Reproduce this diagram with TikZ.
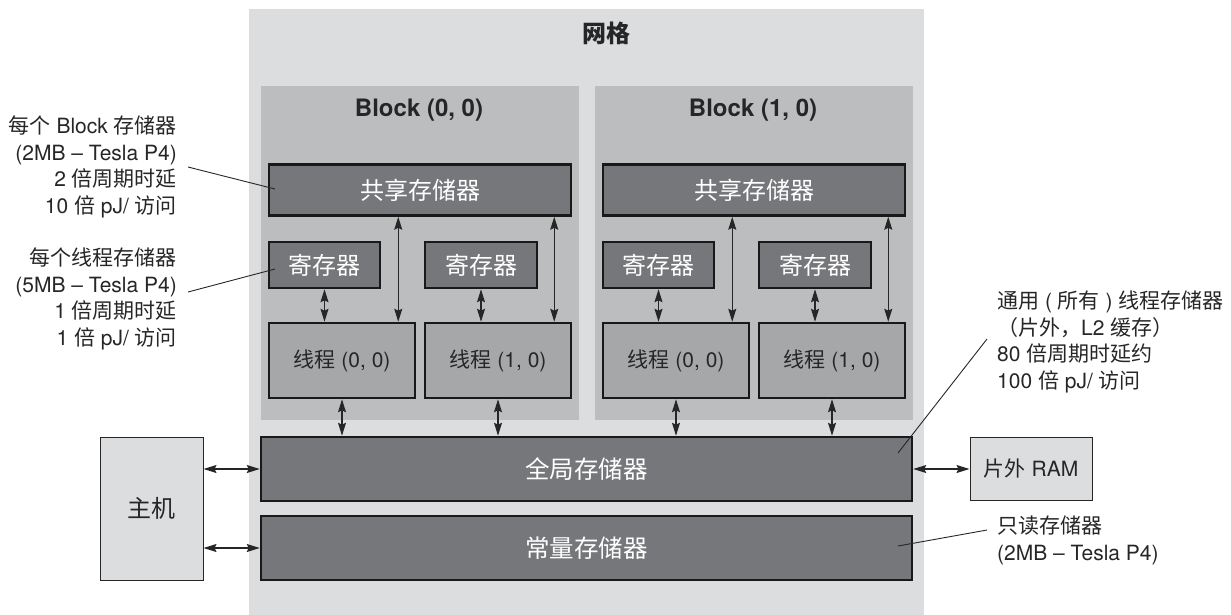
\documentclass[tikz,border=0pt]{standalone}
\usepackage{fontspec}
\setmainfont{TeX Gyre Heros}
\newfontfamily\zhf{Noto Sans CJK SC}
\newcommand\zh[1]{{\zhf #1}}
\usetikzlibrary{arrows.meta}
\definecolor{gridc}{HTML}{DCDDDF}
\definecolor{blkc}{HTML}{BCBDBF}
\definecolor{darkc}{HTML}{76777A}
\definecolor{thrc}{HTML}{A6A7A9}
\definecolor{lightc}{HTML}{DCDDDF}
\begin{document}
\begin{tikzpicture}[x=1pt,y=-1pt,
  gridbox/.style={fill=gridc, draw=none, inner sep=0pt},
  blkbox/.style={fill=blkc, draw=none, inner sep=0pt},
  darkbox/.style={draw=black!90, line width=2.5pt, fill=darkc, text=white, inner sep=0pt, font=\fontsize{24}{28}\selectfont},
  thrbox/.style={draw=black!90, line width=2.5pt, fill=thrc, text=black!85, inner sep=0pt, font=\fontsize{21}{25}\selectfont},
  lightbox/.style={draw=black!85, line width=1pt, fill=lightc, text=black!85, inner sep=0pt, font=\fontsize{21}{25}\selectfont},
  title/.style={font=\fontsize{24}{28}\selectfont\bfseries, text=black!85, inner sep=0pt},
  ann/.style={font=\fontsize{21}{26.5}\selectfont, text=black!85, inner sep=0pt},
  arr/.style={{Stealth[length=13pt,width=8pt,inset=2pt]}-{Stealth[length=13pt,width=8pt,inset=2pt]}, line width=1.3pt, black!85},
  lead/.style={line width=0.9pt, black!85}
]
\useasboundingbox (0,0) rectangle (1231,614);
% grid
\node[gridbox, minimum width=675pt, minimum height=606pt, anchor=north west] (grid) at (249,9) {};
\node[title] (gridlbl) at (606,33) {\zh{\bfseries 网格}};
% blocks
\node[blkbox, minimum width=318pt, minimum height=334pt, anchor=north west] (blk0) at (261,86) {};
\node[blkbox, minimum width=318pt, minimum height=334pt, anchor=north west] (blk1) at (595,86) {};
\node[title] (blk0lbl) at (419,110) {Block (0, 0)};
\node[title] (blk1lbl) at (753,110) {Block (1, 0)};
% block 0 contents
\node[darkbox, minimum width=302pt, minimum height=51pt] (sh0) at (420,190) {\zh{共享存储器}};
\node[darkbox, minimum width=111pt, minimum height=46pt] (r00) at (324.5,265) {\zh{寄存器}};
\node[darkbox, minimum width=112pt, minimum height=46pt] (r01) at (481,265) {\zh{寄存器}};
\node[thrbox, minimum width=146pt, minimum height=75pt] (t00) at (342,360.5) {\zh{线程} (0, 0)};
\node[thrbox, minimum width=146pt, minimum height=75pt] (t01) at (498,360.5) {\zh{线程} (1, 0)};
% block 1 contents
\node[darkbox, minimum width=302pt, minimum height=51pt] (sh1) at (754,190) {\zh{共享存储器}};
\node[darkbox, minimum width=111pt, minimum height=46pt] (r10) at (658.5,265) {\zh{寄存器}};
\node[darkbox, minimum width=112pt, minimum height=46pt] (r11) at (815,265) {\zh{寄存器}};
\node[thrbox, minimum width=146pt, minimum height=75pt] (t10) at (676,360.5) {\zh{线程} (0, 0)};
\node[thrbox, minimum width=146pt, minimum height=75pt] (t11) at (832,360.5) {\zh{线程} (1, 0)};
% global and constant memory
\node[darkbox, font=\fontsize{24.5}{28}\selectfont, minimum width=651pt, minimum height=64pt] (glob) at (586.5,469) {\zh{全局存储器}};
\node[darkbox, font=\fontsize{24.5}{28}\selectfont, minimum width=651pt, minimum height=64pt] (const) at (586.5,548) {\zh{常量存储器}};
% host and RAM
\node[lightbox, font=\fontsize{24}{28}\selectfont, minimum width=103pt, minimum height=143pt] (host) at (151.5,508.5) {\zh{主机}};
\node[lightbox, minimum width=122pt, minimum height=63pt] (ram) at (1031,469) {\zh{片外} RAM};
% arrows register <-> thread
\foreach \r/\t in {r00/t00, r01/t01, r10/t10, r11/t11}{
  \draw[arr] (\r.south) -- (\r.south |- \t.north);
}
% arrows shared <-> thread
\foreach \s/\t in {sh0/t00, sh0/t01, sh1/t10, sh1/t11}{
  \draw[arr] ([xshift=-18pt]\t.north east |- \s.south) -- ([xshift=-18pt]\t.north east);
}
% arrows thread <-> global
\foreach \t in {t00, t01, t10, t11}{
  \draw[arr] (\t.south) -- (\t.south |- glob.north);
}
% host / RAM arrows
\draw[arr] (host.east |- glob.west) -- (glob.west);
\draw[arr] (host.east |- const.west) -- (const.west);
\draw[arr] (glob.east) -- (ram.west);
% annotations
\node[ann, align=right, anchor=north east] (annblk) at (177,116) {%
  \zh{每个} Block \zh{存储器}\\
  (2MB – Tesla P4)\\
  2 \zh{倍周期时延}\\
  10 \zh{倍} pJ/ \zh{访问}};
\node[ann, align=right, anchor=north east] (annthr) at (177,248) {%
  \zh{每个线程存储器}\\
  (5MB – Tesla P4)\\
  1 \zh{倍周期时延}\\
  1 \zh{倍} pJ/ \zh{访问}};
\node[ann, align=left, anchor=north west] (annglob) at (997,291) {%
  \zh{通用} ( \zh{所有} ) \zh{线程存储器}\\
  \zh{（片外，}L2 \zh{缓存）}\\
  80 \zh{倍周期时延约}\\
  100 \zh{倍} pJ/ \zh{访问}};
\node[ann, align=left, anchor=north west] (annconst) at (997,516) {%
  \zh{只读存储器}\\
  (2MB – Tesla P4)};
% leader lines
\coordinate (lb1) at (188,167);
\coordinate (lb2) at (275,189);
\draw[lead] (lb1) -- (lb2);
\coordinate (lt1) at (188,292);
\coordinate (lt2) at (275,269);
\draw[lead] (lt1) -- (lt2);
\coordinate (lg1) at (987,339);
\coordinate (lg2) at (898,453);
\draw[lead] (lg1) -- (lg2);
\coordinate (lc1) at (987,530);
\coordinate (lc2) at (898,546);
\draw[lead] (lc1) -- (lc2);
\end{tikzpicture}
\end{document}
